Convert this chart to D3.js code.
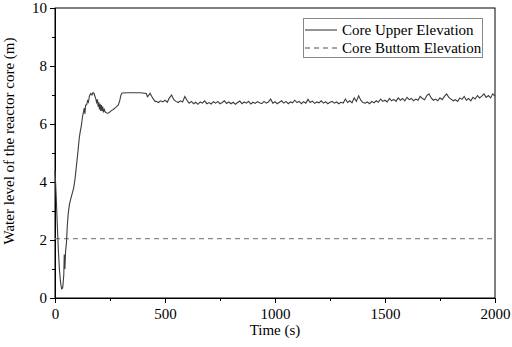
<!DOCTYPE html>
<html><head><meta charset="utf-8">
<script src="https://cdn.jsdelivr.net/npm/d3@7"></script>
<style>body{margin:0;background:#fff}svg{display:block}</style>
</head><body>
<svg id="c" width="512" height="347"></svg>
<script>
// Early transient (time, level)
const earlyTimes = [0,5,10,15,20,25,30,35,40,42,45,48,52,56,60,65,71,78,85,91,98,105,110,114,120,125,129,133,136,139,144,148,152,156,162,168,172,177,182,186,189,193,196,199,202,205,208,211,214,217,220,224,228,235,242,250,258,265,272,280,288,294,300,305,330,360,390,415,420,425,432,440,448,455];
const earlyLevels = [4.4,3.6,2.6,1.7,1.0,0.55,0.32,0.35,0.8,1.5,1.0,1.6,1.9,2.5,2.9,3.2,3.4,3.6,3.8,4.1,4.6,5.1,5.5,5.7,5.95,6.25,6.4,6.55,6.35,6.65,6.66,6.8,6.75,6.95,7.05,7.0,7.08,7.06,6.95,6.85,6.75,6.85,6.6,6.75,6.5,6.7,6.45,6.65,6.45,6.6,6.4,6.5,6.42,6.38,6.37,6.42,6.47,6.5,6.55,6.6,6.66,6.8,7.0,7.07,7.08,7.08,7.08,7.05,6.94,6.98,7.06,6.95,6.85,6.78];
// Later quasi-steady part, every 10 s from 460 s to 2000 s
const lateStart = 460, lateStep = 10;
const lateLevels = [
6.78,6.74,6.80,6.76,6.82,6.75,6.90,7.00,6.84,6.78,6.74,6.80,6.76,6.95,6.82,
6.72,6.78,6.70,6.75,6.68,6.76,6.72,6.80,6.70,6.74,
6.69,6.77,6.72,6.78,6.70,6.74,6.80,6.71,6.76,6.70,
6.75,6.68,6.74,6.79,6.70,6.76,6.72,6.78,6.69,6.75,
6.71,6.77,6.73,6.70,6.78,6.72,6.76,6.86,6.72,6.77,
6.70,6.75,6.80,6.72,6.78,6.70,6.76,6.73,6.82,6.74,
6.78,6.70,6.77,6.72,6.85,6.74,6.79,6.71,6.76,6.73,
6.80,6.72,6.77,6.70,6.75,6.78,6.72,6.76,6.70,6.75,
6.72,6.86,6.74,6.80,6.73,6.90,6.78,6.97,6.82,6.74,
6.72,6.76,6.70,6.78,6.73,6.80,6.75,6.86,6.78,6.82,
6.76,6.88,6.80,6.85,6.78,6.90,6.82,6.88,6.80,6.92,
6.84,6.88,6.80,6.86,6.82,6.95,6.88,6.84,6.98,7.04,
6.90,6.82,6.86,6.80,6.90,6.84,6.95,7.04,6.92,6.86,
6.80,6.84,6.78,6.90,6.85,6.95,6.82,6.88,6.80,6.92,
6.86,6.98,6.90,6.96,7.04,6.92,6.98,6.90,7.04,6.96];
const bottomElevation = 2.05;
const xTicks = [0,500,1000,1500,2000];
const yTicks = [0,2,4,6,8,10];
const seriesNames = ["Core Upper Elevation","Core Buttom Elevation"];

const data = earlyTimes.map((t,i)=>({t, v: earlyLevels[i]}))
  .concat(lateLevels.map((v,i)=>({t: lateStart + i*lateStep, v})));

const svg = d3.select("#c");
const m = {l:55, r:17, t:8, b:49};
const W = 512, H = 347;
const x = d3.scaleLinear().domain([0,2000]).range([m.l, W-m.r]);
const y = d3.scaleLinear().domain([0,10]).range([H-m.b, m.t]);
const font = "'Liberation Serif','Times New Roman',serif";

// frame
svg.append("rect").attr("x",m.l).attr("y",m.t).attr("width",W-m.l-m.r).attr("height",H-m.t-m.b)
  .attr("fill","none").attr("stroke","#000").attr("stroke-width",1);

// axes
const gx = svg.append("g").attr("transform",`translate(0,${H-m.b})`)
  .call(d3.axisBottom(x).tickValues(xTicks).tickSize(5).tickPadding(5).tickFormat(d3.format("d")));
const gxm = svg.append("g").attr("transform",`translate(0,${H-m.b})`)
  .call(d3.axisBottom(x).tickValues(d3.range(250,2000,500)).tickSize(3).tickFormat(""));
const gy = svg.append("g").attr("transform",`translate(${m.l},0)`)
  .call(d3.axisLeft(y).tickValues(yTicks).tickSize(5).tickPadding(3));
const gym = svg.append("g").attr("transform",`translate(${m.l},0)`)
  .call(d3.axisLeft(y).tickValues(d3.range(1,10,2)).tickSize(3).tickFormat(""));
[gx,gxm,gy,gym].forEach(g=>{
  g.select(".domain").attr("stroke","#000");
  g.selectAll("line").attr("stroke","#000");
  g.selectAll("text").attr("font-family",font).attr("font-size",15).attr("fill","#000");
});

// dashed bottom elevation
svg.append("line").attr("x1",x(0)).attr("x2",x(2000)).attr("y1",y(bottomElevation)).attr("y2",y(bottomElevation))
  .attr("stroke","#8a8a8a").attr("stroke-width",1.3).attr("stroke-dasharray","5,4");

// water level line
svg.append("path").datum(data)
  .attr("d", d3.line().x(d=>x(d.t)).y(d=>y(d.v)))
  .attr("fill","none").attr("stroke","#3c3c3c").attr("stroke-width",1.1);

// axis titles
svg.append("text").attr("x",(m.l+W-m.r)/2).attr("y",335).attr("text-anchor","middle")
  .attr("font-family",font).attr("font-size",15).text("Time (s)");
svg.append("text").attr("transform","translate(14,141) rotate(-90)").attr("text-anchor","middle")
  .attr("font-family",font).attr("font-size",15).text("Water level of the reactor core (m)");

// legend
const lg = svg.append("g");
lg.append("rect").attr("x",303.5).attr("y",18.5).attr("width",179).attr("height",39)
  .attr("fill","#fff").attr("stroke","#888").attr("stroke-width",1);
const rows = [30,48];
lg.append("line").attr("x1",305).attr("x2",337).attr("y1",rows[0]).attr("y2",rows[0])
  .attr("stroke","#3c3c3c").attr("stroke-width",1.1);
lg.append("line").attr("x1",305).attr("x2",337).attr("y1",rows[1]).attr("y2",rows[1])
  .attr("stroke","#8a8a8a").attr("stroke-width",1.3).attr("stroke-dasharray","5,4");
seriesNames.forEach((n,i)=>{
  lg.append("text").attr("x",342).attr("y",rows[i]+5).attr("font-family",font).attr("font-size",15).text(n);
});
</script>
</body></html>
